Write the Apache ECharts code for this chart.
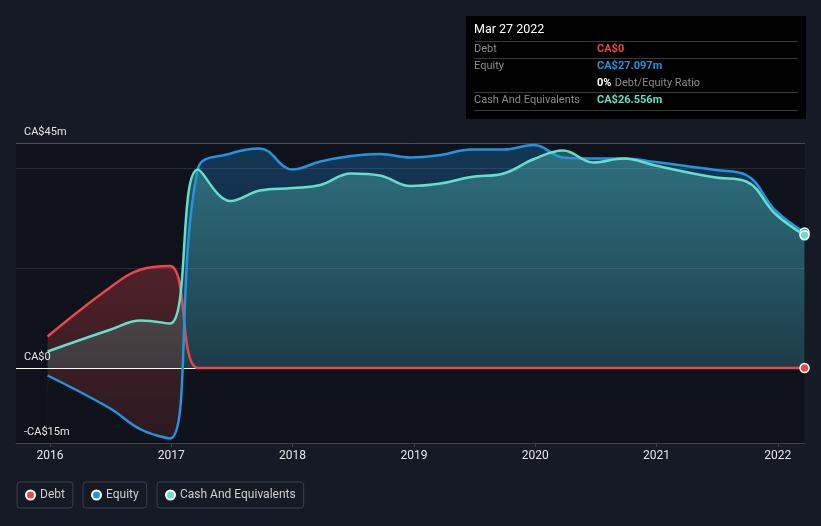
<!DOCTYPE html>
<html><head><meta charset="utf-8">
<script src="https://cdn.jsdelivr.net/npm/echarts@6/dist/echarts.min.js"></script>
<style>html,body{margin:0;padding:0;background:#151a24;}#c{width:821px;height:526px;}</style>
</head><body><div id="c"></div>
<script>
// ---- data (values in CA$ millions, x = fractional year) ----
const dates = [2015.98, 2016.49, 2016.75, 2016.99, 2017.22, 2017.49, 2017.73, 2018.00, 2018.23, 2018.48, 2018.72, 2018.97, 2019.22, 2019.47, 2019.74, 2019.99, 2020.23, 2020.48, 2020.73, 2020.99, 2021.24, 2021.49, 2021.74, 2021.98, 2022.22];
const debt   = [6.3, 16.0, 19.7, 20.4, 0, 0, 0, 0, 0, 0, 0, 0, 0, 0, 0, 0, 0, 0, 0, 0, 0, 0, 0, 0, 0];
const equity = [-1.5, -8.0, -12.3, -14.1, 39.9, 42.9, 43.9, 39.7, 41.3, 42.4, 42.8, 42.1, 42.6, 43.7, 43.7, 44.6, 42.1, 41.9, 41.9, 41.2, 40.4, 39.6, 38.6, 31.5, 27.097];
const cash   = [3.3, 7.6, 9.5, 8.9, 39.7, 33.4, 35.5, 36.0, 36.6, 38.9, 38.5, 36.4, 36.9, 38.2, 38.9, 41.8, 43.5, 41.1, 41.9, 40.5, 39.2, 38.1, 37.3, 30.8, 26.556];
const yearTicks = [2016, 2017, 2018, 2019, 2020, 2021, 2022];
const yLabelValues = [-15, 0, 45];
const gridValues = [20, 40];
const tooltipDate = 'Mar 27 2022';
const seriesNames = ['Debt', 'Equity', 'Cash And Equivalents'];

const C_DEBT = '#e84848', C_EQ = '#2394e0', C_CASH = '#63dfcb';
const PLOT_BG = '#0f121a';
const last = dates.length - 1;
const pts = arr => dates.map((d, i) => [d, arr[i]]);
const SMOOTH = 0.4;
const fmtM = v => (v === 0 ? 'CA$0' : 'CA$' + v.toFixed(3) + 'm');

function fillSeries(name, arr, z, areaStyle) {
  return { name, type: 'line', data: pts(arr), smooth: SMOOTH, symbol: 'none', z,
    lineStyle: { width: 0, opacity: 0 }, areaStyle, silent: true, animation: false };
}
function lineSeries(name, arr, color, z) {
  return { name, type: 'line', data: pts(arr), smooth: SMOOTH, z,
    symbol: 'circle', showSymbol: true, showAllSymbol: true,
    symbolSize: (v, p) => (p.dataIndex === last ? 9 : 0),
    itemStyle: { color, borderColor: '#ffffff', borderWidth: 1.5 },
    lineStyle: { color, width: 2.5 }, animation: false };
}

const grad = (stops, global) => global
  ? { type: 'linear', x: 0, y: 143, x2: 0, y2: 443, global: true, colorStops: stops }
  : { type: 'linear', x: 0, y: 0, x2: 0, y2: 1, colorStops: stops };

const series = [
  fillSeries('debtFill', debt, 1, { origin: 'start', opacity: 1,
    color: grad([{ offset: 0, color: 'rgba(230,70,75,0.30)' }, { offset: 1, color: 'rgba(230,70,75,0.13)' }], false) }),
  fillSeries('mask', equity, 2, { origin: 'start', opacity: 1, color: PLOT_BG }),
  fillSeries('equityFill', equity, 3, { opacity: 1,
    color: grad([{ offset: 0, color: 'rgba(33,150,243,0.28)' }, { offset: 0.749, color: 'rgba(33,150,243,0.10)' },
                 { offset: 0.75, color: 'rgba(33,150,243,0)' }, { offset: 1, color: 'rgba(33,150,243,0)' }], true) }),
  fillSeries('cashFill', cash, 4, { opacity: 1,
    color: grad([{ offset: 0, color: 'rgba(100,224,207,0.34)' }, { offset: 0.75, color: 'rgba(100,224,207,0.15)' },
                 { offset: 1, color: 'rgba(100,224,207,0.10)' }], true) }),
  { name: 'grid', type: 'line', data: pts(cash), symbol: 'none', z: 5, silent: true, animation: false,
    lineStyle: { opacity: 0 },
    markLine: { silent: true, symbol: ['none', 'none'], label: { show: false }, animation: false,
      data: gridValues.map(v => ({ yAxis: v, lineStyle: { color: 'rgba(255,255,255,0.10)', width: 1, type: 'solid' } }))
        .concat([{ yAxis: 45, lineStyle: { color: 'rgba(255,255,255,0.25)', width: 1, type: 'solid' } },
                 { yAxis: 0, lineStyle: { color: '#ffffff', width: 1, type: 'solid' } }]) } },
  lineSeries(seriesNames[0], debt, C_DEBT, 6),
  lineSeries(seriesNames[1], equity, C_EQ, 7),
  lineSeries(seriesNames[2], cash, C_CASH, 8)
];

const legendBase = { top: 482, orient: 'horizontal', icon: 'circle', itemWidth: 9, itemHeight: 9,
  padding: [7, 8, 7, 8], borderColor: '#3a404c', borderWidth: 1, borderRadius: 3,
  textStyle: { color: '#cfcfcf', fontSize: 12, fontFamily: 'Roboto' }, selectedMode: false };
const legendLefts = [17, 83, 157];

// tooltip-like info box
const BX = 466, BY = 16, BW = 340, BH = 103;
const rowY = [49, 66, 83, 100];
const sepY = [41.5, 58.5, 92.5, 110.5];
const graphic = [
  { type: 'rect', left: BX, top: BY, shape: { width: BW, height: BH }, style: { fill: '#000000' }, z: 100 },
  { type: 'text', x: 474, y: 30, style: { text: tooltipDate, fill: '#ffffff', font: '12.5px Roboto', verticalAlign: 'middle' }, z: 101 }
];
sepY.forEach(y => graphic.push({ type: 'line', shape: { x1: 474, y1: y, x2: 798, y2: y }, style: { stroke: '#3a3a3a', lineWidth: 1 }, z: 101 }));
const rows = [
  [seriesNames[0], fmtM(debt[last]), C_DEBT],
  [seriesNames[1], fmtM(equity[last]), C_EQ],
  null,
  [seriesNames[2], fmtM(cash[last]), C_CASH]
];
rows.forEach((r, i) => {
  if (r) {
    graphic.push({ type: 'text', x: 474, y: rowY[i], style: { text: r[0], fill: '#8c8c8c', font: '11px Roboto', verticalAlign: 'middle' }, z: 101 });
    graphic.push({ type: 'text', x: 597, y: rowY[i], style: { text: r[1], fill: r[2], font: 'bold 11px Roboto', verticalAlign: 'middle' }, z: 101 });
  }
});
const ratio = Math.round(debt[last] / equity[last] * 100);
graphic.push({ type: 'text', x: 597, y: rowY[2], z: 101, style: { text: '{b|' + ratio + '%} {g|Debt/Equity Ratio}', verticalAlign: 'middle',
  rich: { b: { fill: '#ffffff', font: 'bold 11px Roboto' }, g: { fill: '#8c8c8c', font: '11px Roboto' } } } });

const option = {
  backgroundColor: '#151a24',
  animation: false,
  grid: { left: 16, right: 16, top: 143, bottom: 83, show: true, backgroundColor: PLOT_BG, borderWidth: 0 },
  xAxis: { type: 'value', min: 2015.72, max: 2022.224, z: 10,
    axisLine: { onZero: false, lineStyle: { color: '#3b404a', width: 1 } },
    axisTick: { show: true, customValues: yearTicks, length: 4, lineStyle: { color: '#3b404a' } },
    axisLabel: { customValues: yearTicks, color: '#e6e6e6', fontSize: 12, fontFamily: 'Roboto', margin: 7, formatter: v => String(v) },
    splitLine: { show: false } },
  yAxis: { type: 'value', min: -15, max: 45, z: 10,
    axisLine: { show: false }, axisTick: { show: false }, splitLine: { show: false },
    axisLabel: { customValues: yLabelValues, inside: true, margin: 8, color: '#e6e6e6', fontSize: 11, fontFamily: 'Roboto',
      verticalAlign: 'bottom', padding: [0, 0, 5, 0],
      formatter: v => (v === 0 ? 'CA$0' : (v < 0 ? '-CA$' + Math.abs(v) + 'm' : 'CA$' + v + 'm')) } },
  legend: seriesNames.map((n, i) => Object.assign({}, legendBase, { data: [n], left: legendLefts[i] })),
  series,
  graphic
};
echarts.init(document.getElementById('c')).setOption(option);
</script></body></html>
